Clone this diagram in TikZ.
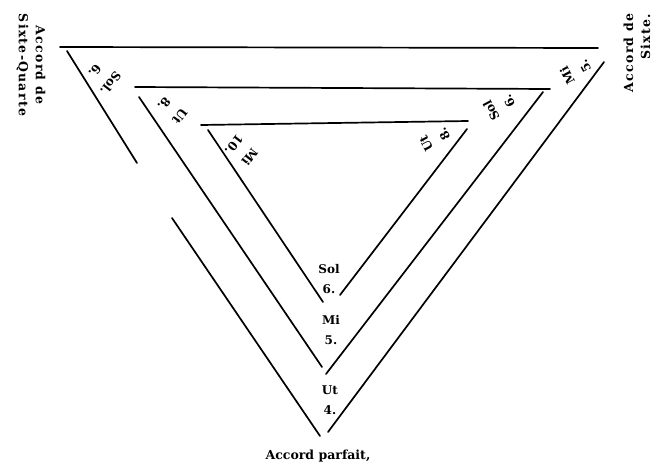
\documentclass[tikz,border=0pt]{standalone}
\usepackage{fontspec}
\setmainfont{DejaVu Serif}
\newfontfamily\titlewide[LetterSpace=10]{DejaVu Serif}
\begin{document}
\begin{tikzpicture}[x=1pt,y=-1pt,
  rule/.style={line width=1.7pt, line cap=round},
  lbl/.style={font=\bfseries\fontsize{12}{20}\selectfont, inner sep=0pt, align=center},
  side/.style={font=\titlewide\bfseries\fontsize{12.5}{17}\selectfont, inner sep=0pt}]
\useasboundingbox (0,0) rectangle (656,466);
% outer triangle
\coordinate (o1) at (60,47);   \coordinate (o2) at (598,48);
\coordinate (ol1) at (67,51);  \coordinate (ol2) at (137,163);
\coordinate (ol3) at (172,218); \coordinate (ol4) at (320,436);
\coordinate (or1) at (604,62); \coordinate (or2) at (328,432);
% middle triangle
\coordinate (m1) at (135,87);  \coordinate (m2) at (550,89);
\coordinate (ml1) at (139,97); \coordinate (ml2) at (322,367);
\coordinate (mr1) at (543,92); \coordinate (mr2) at (326,374);
% inner triangle
\coordinate (i1) at (201,125); \coordinate (i2) at (468,121);
\coordinate (il1) at (208,130); \coordinate (il2) at (323,302);
\coordinate (ir1) at (467,129); \coordinate (ir2) at (340,295);

\draw[rule] (o1) -- (o2);
\draw[rule] (ol1) -- (ol2);
\draw[rule] (ol3) -- (ol4);
\draw[rule] (or1) -- (or2);
\draw[rule] (m1) -- (m2);
\draw[rule] (ml1) -- (ml2);
\draw[rule] (mr1) -- (mr2);
\draw[rule] (i1) -- (i2);
\draw[rule] (il1) -- (il2);
\draw[rule] (ir1) -- (ir2);

% bottom labels
\node[lbl] (bs) at (329,279) {Sol\\6.};
\node[lbl] (bm) at (331,330) {Mi\\5.};
\node[lbl] (bu) at (330,400) {Ut\\4.};
\node[inner sep=0pt, font=\bfseries\fontsize{12.5}{15}\selectfont] (parf) at (318,456) {Accord parfait,};

% left corner labels
\node[lbl, rotate=-128] (ls) at (103,77) {Sol.\\6.};
\node[lbl, rotate=-128] (lu) at (172,110) {Ut\\8.};
\node[lbl, rotate=-128] (lm) at (242,151) {Mi\\10.};

% right corner labels
\node[lbl, rotate=118] (rm) at (576,71) {Mi\\5.};
\node[lbl, rotate=118] (rs) at (500,106) {Sol\\6.};
\node[lbl, rotate=118] (ru) at (435,139) {Ut\\8.};

% side titles
\node[side, rotate=-90, align=center] (sq) at (31,65) {Accord de\\Sixte-Quarte};
\node[side, rotate=90, align=right] (sx) at (637,53) {Accord de\\Sixte.};
\end{tikzpicture}
\end{document}
